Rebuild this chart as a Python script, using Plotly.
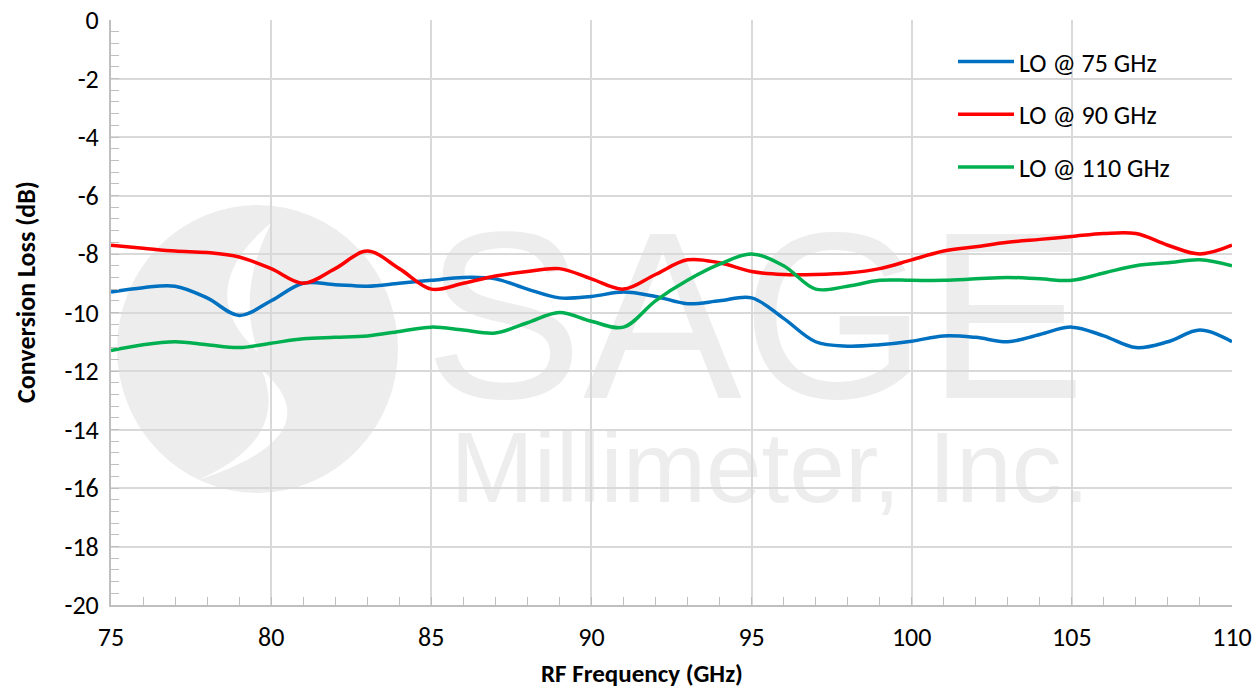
import plotly.graph_objects as go

freq = list(range(75, 111))

lo75 = [-9.3, -9.15, -9.1, -9.5, -10.1, -9.6, -9.0, -9.05, -9.1, -9.0,
        -8.9, -8.8, -8.85, -9.2, -9.5, -9.45, -9.3, -9.45, -9.7, -9.6,
        -9.5, -10.2, -11.0, -11.15, -11.1, -10.98, -10.8, -10.85, -11.0, -10.75,
        -10.5, -10.8, -11.2, -11.0, -10.6, -11.0]
lo90 = [-7.7, -7.8, -7.9, -7.95, -8.1, -8.5, -9.0, -8.5, -7.9, -8.5,
        -9.2, -9.0, -8.75, -8.6, -8.5, -8.85, -9.2, -8.7, -8.2, -8.3,
        -8.6, -8.7, -8.7, -8.65, -8.5, -8.2, -7.9, -7.75, -7.6, -7.5,
        -7.4, -7.3, -7.3, -7.7, -8.0, -7.7]
lo110 = [-11.3, -11.1, -11.0, -11.1, -11.2, -11.05, -10.9, -10.85, -10.8, -10.65,
         -10.5, -10.6, -10.7, -10.35, -10.0, -10.3, -10.5, -9.6, -8.9, -8.35,
         -8.0, -8.4, -9.2, -9.1, -8.9, -8.9, -8.9, -8.85, -8.8, -8.85,
         -8.9, -8.65, -8.4, -8.3, -8.2, -8.4]

series_names = ["LO @ 75 GHz", "LO @ 90 GHz", "LO @ 110 GHz"]
series_colors = ["#0070C0", "#FF0000", "#00B050"]

x_ticks = [75, 80, 85, 90, 95, 100, 105, 110]
y_ticks = [0, -2, -4, -6, -8, -10, -12, -14, -16, -18, -20]
y_ticktext = ["0", "-2", "-4", "-6", "-8", "-10", "-12", "-14", "-16", "-18", "-20"]
x_title = "RF Frequency (GHz)"
y_title = "Conversion Loss (dB)"

FONT = "Calibri, Carlito, Lato, sans-serif"
WM = "#ededed"

# pixel -> data helpers for the decorative watermark only
L, R, T, B = 111, 1232, 20, 605
def px(x):
    return 75 + (x - L) * 35 / (R - L)
def py(y):
    return -(y - T) * 20 / (B - T)
def ppx(x):
    return (x - L) / (R - L)
def ppy(y):
    return 1 - (y - T) / (B - T)

fig = go.Figure()
for name, col, ys in zip(series_names, series_colors, [lo75, lo90, lo110]):
    fig.add_trace(go.Scatter(x=freq, y=ys, name=name, mode="lines",
                             line=dict(color=col, width=3.5, shape="spline", smoothing=1.0),
                             legendgroup=name))

shapes = []
# logo circle
shapes.append(dict(type="circle", xref="x", yref="y", layer="below",
                   x0=px(117), x1=px(398), y0=py(205), y1=py(493),
                   fillcolor=WM, line=dict(width=0)))
# white S-gap
def P(x, y):
    return f"{px(x):.4f},{py(y):.4f}"
path1 = f"M {P(272,222)} Q {P(190,290)} {P(258,352)} Q {P(236,290)} {P(272,222)} Z"
path2 = f"M {P(262,370)} Q {P(335,435)} {P(198,480)} Q {P(290,440)} {P(262,370)} Z"
for p in (path1, path2):
    shapes.append(dict(type="path", xref="x", yref="y", layer="below", path=p,
                       fillcolor="white", line=dict(width=0)))
# watermark text
shapes.append(dict(type="rect", xref="x", yref="y", layer="below",
                   x0=px(430), x1=px(1080), y0=py(195), y1=py(390),
                   fillcolor="rgba(0,0,0,0)", line=dict(width=0),
                   label=dict(text="SAGE", textposition="middle center",
                              font=dict(family="Liberation Sans, Arial", size=238, color=WM))))
shapes.append(dict(type="rect", xref="x", yref="y", layer="below",
                   x0=px(430), x1=px(1110), y0=py(410), y1=py(505),
                   fillcolor="rgba(0,0,0,0)", line=dict(width=0),
                   label=dict(text="Millimeter, Inc.", textposition="middle center",
                              font=dict(family="Liberation Sans, Arial", size=100, color=WM))))

annotations = [
    dict(text=f"<b>{x_title}</b>", xref="paper", yref="paper", x=ppx(642), y=ppy(673),
         xanchor="center", yanchor="middle", showarrow=False, font=dict(size=25, family=FONT)),
    dict(text=f"<b>{y_title}</b>", xref="paper", yref="paper", x=ppx(26), y=ppy(292),
         xanchor="center", yanchor="middle", showarrow=False, textangle=-90,
         font=dict(size=26, family=FONT)),
]

fig.update_layout(
    width=1257, height=689,
    margin=dict(l=L, r=1257 - R, t=T, b=689 - B, autoexpand=False),
    paper_bgcolor="white", plot_bgcolor="white",
    font=dict(family=FONT, size=26, color="#000000"),
    shapes=shapes,
    annotations=annotations,
    showlegend=True,
    legend=dict(x=ppx(953), y=ppy(38), xanchor="left", yanchor="top",
                bgcolor="rgba(0,0,0,0)", borderwidth=0, font=dict(size=26, family=FONT),
                itemwidth=56, tracegroupgap=16, traceorder="grouped"),
    xaxis=dict(range=[75, 110], tickvals=x_ticks, ticks="inside", ticklen=8, tickcolor="#bfbfbf",
               showgrid=True, gridcolor="#d9d9d9", gridwidth=1.5, automargin=False,
               showline=True, linecolor="#bfbfbf", linewidth=2, zeroline=False,
               minor=dict(dtick=1, ticks="inside", ticklen=8, tickcolor="#bfbfbf", showgrid=False),
               ticklabelstandoff=8, tickfont=dict(size=26)),
    yaxis=dict(range=[-20, 0], tickvals=y_ticks, ticktext=y_ticktext, ticks="inside", ticklen=8,
               tickcolor="#bfbfbf", automargin=False,
               showgrid=True, gridcolor="#d9d9d9", gridwidth=1.5,
               showline=True, linecolor="#bfbfbf", linewidth=2, zeroline=False,
               minor=dict(dtick=0.4, ticks="inside", ticklen=8, tickcolor="#bfbfbf", showgrid=False),
               ticklabelstandoff=5, tickfont=dict(size=26)),
)

fig.write_html("out.html", config={"displayModeBar": False},
               post_script="document.body.style.margin='0';document.body.style.padding='0';")
